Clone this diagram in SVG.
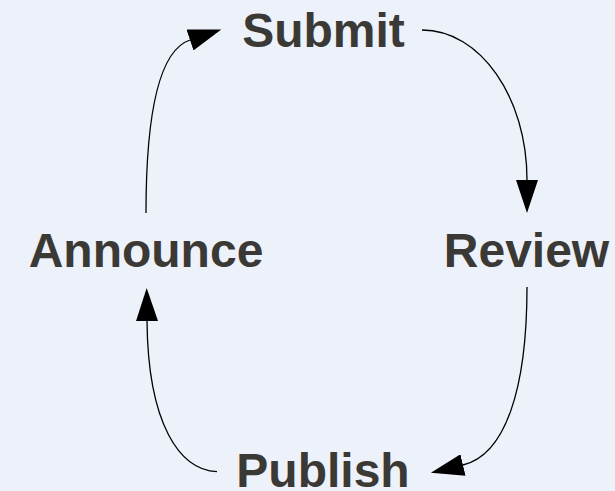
<svg xmlns="http://www.w3.org/2000/svg" width="615" height="491" viewBox="0 0 615 491">
  <style>
    .label { font-family: "Liberation Sans", Arial, sans-serif; font-weight: bold; font-size: 48px; fill: #3b3935; text-anchor: middle; }
    .flow { fill: none; stroke: #000; stroke-width: 1.3; marker-end: url(#head); }
  </style>
  <defs>
    <marker id="head" viewBox="0 -11 33 22" refX="0" refY="0" markerWidth="33" markerHeight="22" markerUnits="userSpaceOnUse" orient="auto">
      <path d="M0,-11 L33,0 L0,11 z" fill="#000"/>
    </marker>
  </defs>
  <rect width="615" height="491" fill="#edf1f9"/>

  <!-- cycle steps -->
  <g id="node-submit"><text class="label" x="323.5" y="47">Submit</text></g>
  <g id="node-review"><text class="label" x="526.5" y="267">Review</text></g>
  <g id="node-publish"><text class="label" x="323" y="487">Publish</text></g>
  <g id="node-announce"><text class="label" x="146" y="267">Announce</text></g>

  <!-- curved arrows between steps, clockwise -->
  <g id="connectors">
    <path class="flow" d="M422,30 C480,30 527,97 527,180"/>
    <path class="flow" d="M527,287 C527,390 505,455 463,465"/>
    <path class="flow" d="M217,471.7 C180,470 148,425 147,321"/>
    <path class="flow" d="M146,213 C146,110 160,50 190,40"/>
  </g>
</svg>
